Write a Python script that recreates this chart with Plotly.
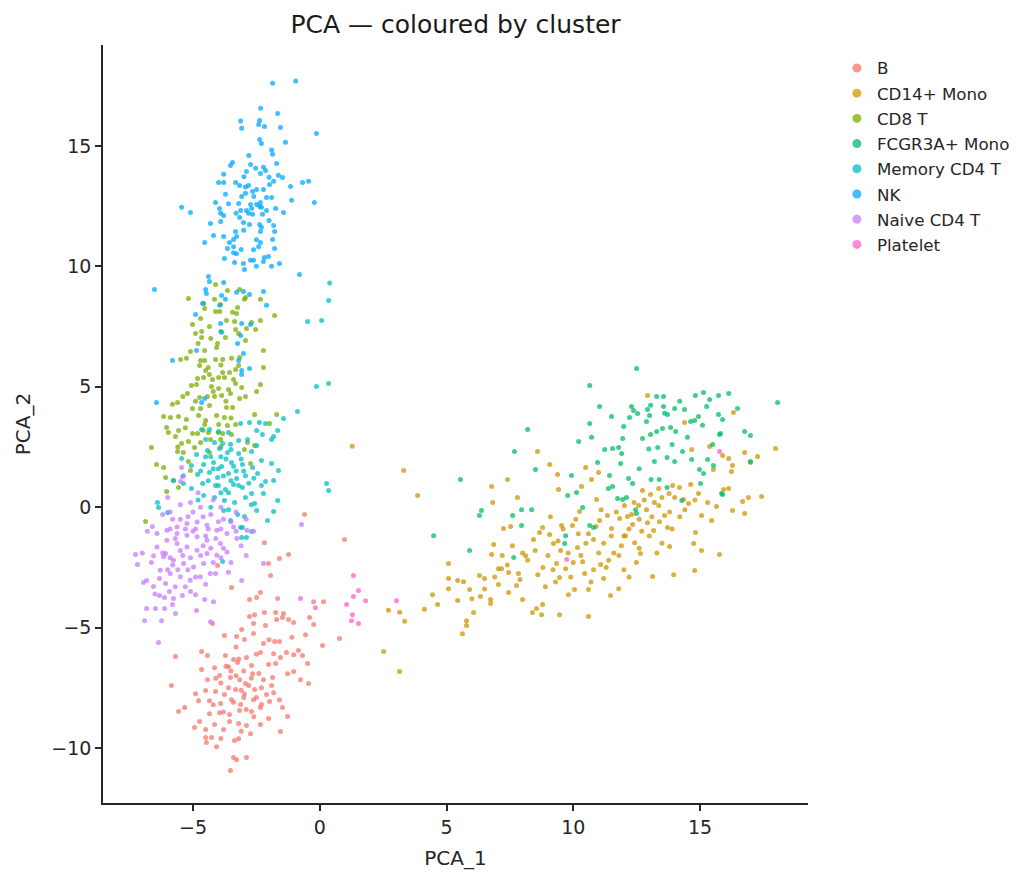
import plotly.graph_objs as go

# cluster labels in legend order
clusters = ["B", "CD14+ Mono", "CD8 T", "FCGR3A+ Mono", "Memory CD4 T", "NK", "Naive CD4 T", "Platelet"]
colours = ["#F8766D", "#CD9600", "#7CAE00", "#00BE67", "#00BFC4", "#00A9FF", "#C77CFF", "#FF61CC"]

# (PCA_1, PCA_2) per cluster
b_pts = [(-2.18, -1.47), (0.98, -1.34), (-1.59, -2.13), (-1.23, -1.96), (-2.02, -2.34), (-1.94, -2.84),
         (-4.03, -2.42), (-3.48, -3.33), (-2.77, -3.83), (-2.49, -3.75), (-2.34, -3.54), (-1.66, -3.79),
         (-0.24, -3.92), (0.15, -3.92), (-2.77, -4.54), (-2.57, -4.46), (-2.18, -4.37), (-1.74, -4.37),
         (-1.43, -4.41), (-1.70, -4.66), (-1.47, -4.58), (-1.23, -4.66), (-1.03, -4.79), (-0.40, -4.58),
         (-0.24, -4.87), (-0.56, -5.29), (0.11, -5.74), (0.78, -5.45), (-4.23, -4.83), (-2.61, -4.83),
         (-2.14, -4.91), (-0.60, -0.30),
         (-3.08, -5.08), (-3.76, -5.33), (-3.28, -5.37), (-2.97, -5.49), (-2.61, -5.24), (-2.22, -5.66),
         (-1.78, -5.58), (-1.59, -5.58), (-4.66, -5.99), (-4.43, -6.16), (-3.72, -6.16), (-3.40, -6.32),
         (-2.89, -6.24), (-2.34, -6.03), (-1.82, -6.08), (-1.55, -6.24), (-1.31, -6.03), (-1.03, -6.12),
         (-0.68, -6.16), (-0.84, -5.95), (-0.48, -6.49), (-5.69, -6.20), (-4.66, -6.74), (-4.15, -6.66),
         (-3.60, -6.62), (-3.24, -6.45), (-2.69, -6.57), (-2.02, -6.53), (-1.74, -6.49), (-1.27, -6.91),
         (-1.03, -6.82), (-4.43, -7.16), (-3.95, -6.99), (-3.52, -7.07), (-3.16, -7.16), (-2.93, -7.32),
         (-2.65, -6.91), (-2.22, -7.16), (-1.86, -7.07), (-0.76, -7.16), (-0.44, -7.32), (-5.85, -7.40),
         (-4.90, -7.74), (-4.50, -7.61), (-4.11, -7.65), (-3.76, -7.78), (-3.32, -7.57), (-2.97, -7.74),
         (-2.57, -7.57), (-2.10, -7.78), (-1.82, -7.70), (-4.78, -8.03), (-4.35, -8.03), (-3.91, -8.15),
         (-3.48, -7.99), (-3.12, -8.19), (-2.61, -7.99), (-2.30, -8.19), (-1.98, -8.07), (-1.59, -7.99),
         (-5.57, -8.48), (-5.33, -8.32), (-4.35, -8.57), (-3.95, -8.53), (-3.56, -8.61), (-3.16, -8.44),
         (-2.69, -8.48), (-2.34, -8.32), (-1.47, -8.32), (-1.27, -8.69), (-4.94, -9.15), (-4.74, -8.90),
         (-4.50, -9.23), (-4.15, -9.02), (-3.79, -9.23), (-3.56, -8.90), (-3.20, -8.98), (-2.89, -9.06),
         (-2.34, -9.02), (-2.02, -8.77), (-1.55, -9.31), (-4.50, -9.56), (-4.27, -9.56), (-3.36, -9.69),
         (-3.20, -9.61), (-4.47, -9.77), (-4.07, -9.94), (-2.73, -9.40), (-3.40, -10.39), (-3.28, -10.48),
         (-2.89, -10.39), (-3.52, -10.93),
         (-3.30, -7.00), (-2.80, -7.40), (-3.60, -7.50), (-3.00, -6.80), (-2.50, -7.90), (-3.90, -7.30),
         (-3.40, -8.10), (-2.90, -8.40), (-3.20, -6.30), (-2.40, -6.90), (-3.70, -6.60), (-3.00, -7.90),
         (-3.10, -7.60), (-2.70, -7.10), (-3.50, -6.80), (-3.80, -8.50), (-2.60, -8.70), (-3.10, -9.30),
         (-2.30, -7.50), (-4.10, -7.10), (-3.30, -5.80), (-2.50, -6.10), (-4.20, -8.20), (-1.90, -7.40),
         (-2.00, -5.50), (-1.10, -5.40), (-3.90, -9.60)]

cd14_pts = [(1.28, 2.53), (3.31, 1.52), (3.86, 0.49), (2.52, -5.99), (3.15, -6.82), (2.71, -4.28),
            (3.15, -4.36), (3.35, -4.73), (4.13, -4.24), (4.45, -3.63), (4.65, -4.04), (5.08, -2.34),
            (5.08, -2.96), (5.08, -3.38), (5.44, -3.04), (5.44, -3.87), (5.67, -3.09), (5.63, -5.25),
            (5.79, -4.91), (5.79, -4.71), (6.07, -4.37), (5.91, -3.42), (6.30, -2.84), (6.50, -2.96),
            (6.34, -3.71), (6.74, -3.83), (6.74, -4.00), (7.05, -2.55), (7.05, -3.21), (6.78, 0.86),
            (6.82, 0.20), (7.41, 1.15), (7.80, 0.40), (8.59, 2.31), (9.07, 1.77), (9.38, 1.36),
            (9.42, 0.74), (6.86, -1.55), (6.78, -1.96), (7.25, -0.88), (7.53, -0.80), (7.17, -2.55),
            (7.45, -2.71), (7.84, -2.75), (7.76, -3.25), (8.00, -3.83), (7.45, -3.54), (8.12, -2.01),
            (8.43, -1.34), (8.67, -1.05), (8.55, -4.21), (8.75, -4.46), (8.39, -4.37), (8.79, -4.04),
            (8.79, -0.84), (9.07, -1.13), (9.22, -1.51), (9.54, -0.76), (9.34, -2.34), (9.70, -2.55),
            (9.46, -2.92), (9.46, -4.46), (9.81, -3.63), (10.05, -3.42), (9.97, -0.76), (10.25, -0.18),
            (10.49, 1.65), (10.72, 1.15), (10.33, 0.86), (11.00, 1.44), (10.92, 0.32), (10.17, -1.67),
            (10.37, -2.26), (10.45, -2.75), (10.60, -3.42), (10.60, -4.54), (10.80, -1.34), (11.08, -2.38),
            (11.20, -2.96), (11.47, -3.67), (11.79, -3.38), (11.04, -0.55), (11.35, -0.34), (11.51, -0.88),
            (11.83, -0.47), (12.02, 0.07), (12.14, -0.39), (12.34, -0.72), (12.06, -1.18), (12.42, -1.47),
            (12.65, -1.92), (12.49, -2.30), (12.58, 0.07), (12.89, -0.10), (12.93, -0.64), (13.17, -0.97),
            (13.13, -2.88), (13.37, 0.07), (13.60, -0.34), (13.72, -0.84), (13.80, -1.63), (13.96, -2.80),
            (12.73, 0.69), (13.05, 0.53), (13.37, 0.78), (13.78, 0.57), (13.92, 0.90), (14.19, 0.82),
            (14.35, 0.32), (14.55, 0.15), (14.82, -1.05), (14.75, -1.51), (14.79, -2.63), (15.06, -1.80),
            (15.77, -1.96), (14.63, 0.94), (14.94, 0.57), (15.06, -0.34), (15.46, -0.55), (15.65, 0.03),
            (15.93, 0.74), (16.13, 0.78), (16.28, -0.14), (16.68, 0.24), (16.76, -0.26), (16.91, 0.40),
            (17.43, 0.44), (15.38, 2.52), (15.53, 1.57), (15.89, 2.15), (16.13, 2.02), (16.28, 1.73),
            (16.24, 1.48), (16.32, 3.93), (16.76, 2.27), (16.99, 1.86), (17.27, 2.11), (17.98, 2.44),
            (14.67, 2.40), (12.93, 4.64), (14.39, 3.52),
            (9.50, -1.80), (10.00, -2.30), (10.50, -1.50), (11.00, -1.90), (11.50, -1.20), (11.80, -2.00),
            (12.20, -0.90), (12.60, -0.50), (13.00, -1.20), (13.40, -0.60), (13.80, -0.20), (14.20, -0.40),
            (12.80, 0.30), (13.20, 0.20), (10.80, -2.60), (11.30, -2.50), (9.20, -2.60), (8.60, -2.80),
            (8.20, -2.20), (7.90, -3.00), (8.90, -3.30), (9.90, -2.90), (10.90, -0.80), (12.40, 0.20),
            (11.90, -1.60), (14.00, 0.40), (13.50, -1.50), (12.00, -2.60), (8.50, -1.80), (7.60, -1.60),
            (7.20, -2.00), (6.50, -3.40), (6.00, -3.80), (9.60, -0.90), (10.20, -1.10),
            (9.00, -2.00), (9.40, -1.40), (9.80, -1.90), (10.30, -2.00), (10.60, -1.10), (11.20, -1.50),
            (11.60, -1.90), (12.00, -1.20), (12.30, -0.30), (12.70, -1.00), (13.10, -0.40), (13.50, 0.40),
            (13.90, -0.90), (14.40, -0.10), (14.80, 0.30), (11.40, -2.20), (10.70, -3.10), (9.30, -3.10),
            (8.80, -2.50), (8.00, -1.90), (7.40, -2.40), (6.90, -2.90), (11.70, -0.20), (12.60, -1.70),
            (13.30, -1.90), (15.30, 0.20), (10.10, -0.50), (11.10, -0.10), (9.10, -0.40), (12.20, -2.90)]

cd8_pts = [(-4.11, 9.25), (-3.64, 9.00), (-3.16, 9.04), (-2.93, 8.71), (-2.97, 8.63), (-2.34, 8.63),
           (-5.18, 8.67), (-4.58, 8.46), (-4.15, 8.63), (-3.91, 8.42), (-4.54, 8.25), (-4.11, 8.13),
           (-3.95, 8.13), (-3.44, 8.09), (-3.28, 8.04), (-3.24, 8.29), (-1.78, 7.96), (-4.70, 7.84),
           (-3.68, 7.75), (-3.36, 7.71), (-2.69, 7.67), (-2.34, 7.75), (-5.02, 7.59), (-4.35, 7.50),
           (-2.53, 7.38), (-2.89, 7.42), (-3.32, 7.38), (-4.90, 7.21), (-4.66, 7.30), (-4.66, 7.05),
           (-3.72, 7.05), (-2.93, 6.92), (-3.20, 7.21), (-4.03, 6.80), (-4.07, 6.63), (-4.54, 6.51),
           (-5.10, 6.47), (-2.22, 6.51), (-5.49, 6.13), (-5.26, 6.18), (-4.70, 6.09), (-4.54, 6.09),
           (-4.11, 6.13), (-3.83, 6.13), (-3.48, 6.18), (-3.16, 6.22), (-4.74, 5.88), (-4.50, 5.68),
           (-4.35, 5.51), (-3.83, 5.59), (-3.56, 5.59), (-3.32, 5.72), (-3.20, 5.88), (-2.22, 5.80),
           (-4.82, 5.34), (-4.58, 5.39), (-4.23, 5.30), (-3.99, 5.39), (-3.76, 5.39), (-5.06, 5.05),
           (-4.86, 5.10), (-4.27, 5.01), (-3.99, 4.93), (-3.60, 4.89), (-3.32, 5.14), (-3.08, 4.97),
           (-2.34, 5.10), (-5.22, 4.72), (-4.74, 4.56), (-4.43, 4.60), (-4.15, 4.60), (-3.87, 4.64),
           (-3.52, 4.72), (-3.16, 4.51), (-2.93, 4.60), (-2.49, 4.80), (-5.81, 4.27), (-5.61, 4.35),
           (-5.02, 4.10), (-4.70, 4.10), (-4.35, 4.22), (-3.68, 4.14), (-3.44, 4.14), (-6.16, 3.77),
           (-5.89, 3.73), (-5.57, 3.77), (-5.26, 3.64), (-4.78, 3.81), (-4.07, 3.81), (-3.76, 3.73),
           (-2.57, 3.85), (-1.70, 3.85), (-6.04, 3.31), (-5.57, 3.19), (-4.54, 3.43), (-3.99, 3.43),
           (-3.64, 3.39), (-3.32, 3.43), (-1.98, 3.48), (-5.97, 3.10), (-5.02, 3.06), (-4.82, 3.06),
           (-4.39, 3.10), (-3.83, 3.06), (-3.48, 3.02), (-5.69, 2.94), (-5.18, 2.73), (-4.70, 2.69),
           (-4.31, 2.81), (-3.91, 2.81), (-6.64, 2.48), (-5.45, 2.65), (-4.94, 2.48), (-2.85, 2.69),
           (-2.57, 2.56), (-5.61, 2.31), (-5.38, 2.27), (-4.35, 2.27), (-2.97, 2.40), (-6.44, 1.77),
           (-6.16, 1.65), (-5.18, 1.90), (-5.10, 1.52), (-2.73, 1.81), (-6.08, 1.23), (-5.77, 1.11),
           (-5.57, 0.82), (-6.04, 0.65), (-6.87, -0.59),
           (-4.40, 5.80), (-3.90, 5.90), (-4.20, 4.80), (-3.70, 4.40), (-4.90, 4.40), (-4.50, 3.60),
           (-3.50, 3.70), (-5.30, 3.30), (-4.60, 3.20), (-4.00, 3.10), (-3.40, 5.30), (-4.80, 6.80),
           (-3.90, 7.30), (-4.30, 7.00), (-5.40, 4.60), (-5.60, 2.50), (-3.90, 2.50)]

fcgr_pts = [(12.50, 5.76), (10.65, 5.05), (8.20, 3.23), (7.68, 2.31), (5.55, 1.15), (4.49, -1.18),
            (5.91, -1.80), (6.30, -0.34), (6.38, -0.14), (7.61, -0.34), (7.96, -0.10), (8.36, -0.10),
            (7.96, -0.76), (7.65, -2.09), (8.51, 1.57), (10.21, 2.73), (10.65, 3.48), (10.72, 2.90),
            (11.04, 4.18), (11.51, 3.77), (9.93, 1.32), (10.13, 0.61), (9.78, 0.49), (10.37, -0.01),
            (10.65, -0.76), (10.80, -0.84), (9.70, -1.18), (9.66, -1.51), (10.96, 1.86), (11.43, 1.32),
            (11.55, 0.86), (11.39, 0.78), (11.24, 2.40), (11.55, 2.44), (11.79, 2.48), (11.91, 2.23),
            (11.95, 2.85), (11.99, 3.35), (11.87, 1.81), (12.18, 1.19), (12.34, 0.98), (11.75, 0.36),
            (11.95, 0.32), (12.10, 0.40), (12.46, -0.10), (12.49, -0.26), (12.30, 4.18), (12.38, 4.02),
            (12.54, 3.89), (12.93, 4.06), (13.05, 4.23), (13.29, 4.60), (13.56, 4.60), (13.56, 4.18),
            (13.01, 3.81), (12.89, 3.56), (12.22, 3.73), (12.73, 2.85), (13.05, 3.02), (13.29, 3.14),
            (13.52, 3.27), (13.84, 3.31), (14.04, 3.14), (13.72, 3.85), (14.00, 4.10), (14.39, 4.06),
            (14.63, 3.56), (14.79, 3.60), (14.94, 3.77), (15.14, 4.76), (14.82, 4.64), (15.38, 4.47),
            (15.73, 4.64), (16.13, 4.72), (15.26, 4.18), (15.73, 3.85), (15.89, 3.64), (16.48, 4.10),
            (15.77, 3.02), (15.81, 3.06), (16.76, 3.14), (16.99, 2.98), (18.06, 4.35), (12.98, 2.42),
            (13.33, 2.48), (13.70, 2.06), (14.00, 1.90), (14.31, 2.31), (14.67, 1.98), (14.98, 1.57),
            (15.30, 1.98), (15.53, 1.73), (15.89, 0.53), (16.99, 1.90), (13.07, 1.15), (13.39, 1.15),
            (13.70, 0.82), (14.28, 0.28), (15.02, 0.98), (15.14, 1.40), (15.85, 0.57),
            (13.90, 2.60), (14.50, 2.90), (13.60, 3.90), (15.10, 3.40), (12.60, 1.60), (14.20, 4.40),
            (15.50, 2.60), (13.20, 1.90)]

mem_pts = [(0.39, 9.31), (0.35, 8.58), (-0.48, 7.71), (0.07, 7.75), (-0.13, 5.01), (0.35, 5.14),
           (-0.88, 3.97), (-1.43, 3.68), (-1.66, 3.19), (-1.82, 2.94), (-1.90, 2.81), (0.27, 0.98),
           (0.35, 0.69),
           (-4.66, 3.23), (-4.35, 3.23), (-3.99, 3.14), (-3.60, 3.10), (-3.12, 3.48), (-2.77, 3.52),
           (-2.38, 3.52), (-2.14, 3.48), (-2.26, 3.02), (-2.49, 3.19), (-4.50, 2.81), (-4.15, 2.69),
           (-3.83, 2.65), (-3.52, 2.61), (-3.20, 2.77), (-2.85, 2.81), (-2.49, 2.56), (-5.45, 2.02),
           (-4.86, 2.19), (-4.43, 2.35), (-3.95, 2.44), (-3.64, 2.27), (-3.20, 2.23), (-2.69, 2.31),
           (-2.30, 1.94), (-1.90, 1.81), (-1.63, 1.52), (-5.06, 1.73), (-4.58, 1.77), (-4.19, 1.86),
           (-3.87, 1.69), (-3.48, 1.86), (-3.05, 1.77), (-2.65, 1.65), (-5.38, 1.31), (-4.82, 1.36),
           (-4.35, 1.44), (-4.03, 1.23), (-3.60, 1.40), (-3.28, 1.19), (-2.93, 1.31), (-2.45, 1.40),
           (-2.14, 1.07), (-1.82, 1.11), (-5.77, 1.11), (-5.38, 0.98), (-5.06, 0.78), (-4.62, 0.98),
           (-4.11, 0.90), (-3.72, 0.74), (-3.40, 0.94), (-3.05, 0.82), (-2.69, 0.57), (-2.22, 0.57),
           (-4.58, 0.49), (-4.15, 0.40), (-3.76, 0.28), (-3.36, 0.20), (-2.93, 0.40), (-2.57, 0.15),
           (-1.66, 0.28), (-6.40, 0.20), (-6.36, -0.01), (-6.00, -0.22), (-3.79, -0.14), (-3.24, -0.30),
           (-2.97, -0.39), (-2.49, -0.14), (-2.06, -0.55), (-1.82, -0.18), (-3.52, -0.55), (-3.12, -0.84),
           (-2.89, -1.26), (-2.69, -1.01), (-3.05, -0.84), (-3.08, -1.26), (-3.83, -2.25),
           (-4.00, 1.60), (-3.70, 2.00), (-3.30, 1.50), (-4.30, 2.10), (-3.90, 0.60), (-3.50, 1.10),
           (-4.40, 1.10), (-4.00, 0.90), (-3.60, 0.60), (-3.20, 0.90), (-2.80, 1.00), (-4.70, 1.50),
           (-4.20, 1.60), (-3.80, 1.30), (-3.40, 1.70), (-3.00, 1.50), (-2.60, 1.20), (-4.50, 2.10),
           (-3.90, 2.10), (-3.50, 2.40), (-3.10, 2.00), (-4.80, 0.30), (-4.30, 0.00), (-3.60, -0.10),
           (-2.70, 0.10), (-2.30, 0.90)]

nk_pts = [(-1.86, 17.60), (-0.95, 17.70), (-2.33, 16.56), (-1.66, 16.35), (-3.12, 16.03), (-2.37, 16.06),
          (-3.08, 15.73), (-2.41, 15.89), (-2.18, 15.81), (-1.55, 15.77), (-0.13, 15.52), (-2.37, 15.27),
          (-2.30, 15.10), (-1.35, 15.15), (-1.90, 14.83), (-1.86, 14.65), (-3.44, 14.31), (-3.52, 14.19),
          (-2.73, 14.23), (-2.53, 14.07), (-2.22, 14.11), (-2.14, 13.98), (-1.70, 14.27), (-2.89, 13.94),
          (-2.34, 13.86), (-3.79, 13.82), (-2.99, 13.72), (-1.63, 13.78), (-1.47, 13.69), (-3.99, 13.48),
          (-3.79, 13.48), (-3.32, 13.48), (-3.16, 13.36), (-2.93, 13.29), (-2.81, 13.36), (-1.98, 13.40),
          (-1.82, 13.53), (-0.68, 13.48), (-0.44, 13.53), (-1.15, 13.32), (-2.65, 13.11), (-2.49, 13.19),
          (-2.22, 13.19), (-3.72, 12.99), (-3.08, 12.90), (-2.93, 13.03), (-2.10, 12.86), (-1.90, 12.86),
          (-4.11, 12.65), (-5.45, 12.45), (-5.10, 12.24), (-3.20, 12.61), (-2.73, 12.57), (-2.49, 12.57),
          (-2.34, 12.65), (-2.37, 12.49), (-2.30, 12.45), (-1.11, 12.74), (-0.21, 12.65), (-3.95, 12.40),
          (-3.91, 12.20), (-3.79, 12.11), (-3.12, 12.32), (-2.89, 12.32), (-2.69, 12.40), (-2.65, 12.16),
          (-2.81, 12.20), (-2.26, 12.16), (-2.10, 12.32), (-1.74, 12.40), (-1.43, 12.24), (-4.31, 11.78),
          (-3.91, 11.86), (-3.16, 12.03), (-3.01, 11.82), (-2.77, 11.74), (-2.37, 11.74), (-2.30, 11.62),
          (-1.82, 11.70), (-1.78, 11.45), (-2.34, 11.45), (-4.19, 11.28), (-3.79, 11.24), (-3.32, 11.45),
          (-3.28, 11.24), (-3.40, 11.12), (-3.56, 10.99), (-4.54, 10.99), (-3.40, 10.81), (-3.64, 10.74),
          (-3.28, 10.52), (-3.40, 10.56), (-2.61, 10.69), (-2.41, 10.81), (-2.34, 10.99), (-1.86, 11.12),
          (-1.78, 10.74), (-3.76, 10.33), (-3.36, 10.16), (-3.01, 10.12), (-2.97, 9.87), (-2.73, 10.25),
          (-2.61, 10.25), (-2.22, 10.20), (-2.18, 10.37), (-2.02, 10.41), (-1.90, 10.00), (-1.59, 10.12),
          (-0.80, 9.66), (-6.52, 9.04), (-4.39, 9.58), (-4.35, 9.37), (-3.79, 9.33), (-4.50, 9.04),
          (-4.47, 8.87), (-2.22, 8.96), (-3.28, 8.92), (-3.01, 8.96), (-2.77, 8.83), (-3.87, 8.79),
          (-3.72, 8.63), (-4.62, 8.46), (-3.95, 8.38), (-2.10, 8.38), (-4.90, 8.00), (-3.91, 7.63),
          (-3.08, 7.63), (-2.73, 7.59), (-3.87, 7.26), (-3.12, 7.13), (-3.24, 6.80), (-4.86, 6.51),
          (-3.01, 6.38), (-5.81, 6.09), (-3.20, 6.09), (-3.08, 5.68), (-2.77, 5.76), (-3.08, 5.51),
          (-6.44, 4.35), (-4.54, 4.51), (-4.66, 4.35),
          (-2.60, 12.90), (-3.30, 12.20), (-2.50, 11.10), (-3.00, 11.50), (-2.00, 11.90), (-3.60, 12.60),
          (-2.80, 14.60), (-2.50, 10.00), (-3.10, 10.70), (-2.00, 13.70)]

naive_pts = [(-5.45, 1.65), (-5.41, 1.27), (-5.49, 1.07), (-0.72, -0.72), (-7.27, -1.96), (-7.19, -2.38),
             (-6.56, -2.01), (-6.08, -1.92), (-6.64, -2.30), (-6.95, -3.13), (-6.83, -3.04), (-6.56, -3.29),
             (-6.32, -2.96), (-6.08, -3.17), (-6.83, -4.21), (-6.48, -4.21), (-6.12, -4.21), (-5.81, -4.04),
             (-6.91, -4.71), (-6.24, -4.71), (-5.69, -4.41), (-4.86, -4.29), (-4.54, -3.83), (-4.19, -3.92),
             (-4.31, -4.75), (-6.36, -5.62), (-3.08, -3.04), (-4.11, -2.75), (-2.22, -2.34), (-6.32, -3.67),
             (-6.12, -3.75), (-5.77, -3.79), (-5.42, -3.67), (-5.10, -3.50), (-4.90, -3.63), (-5.93, -3.50),
             (-6.42, -1.09), (-6.03, -0.96), (-5.63, -0.82), (-5.24, -0.68), (-4.84, -0.61), (-4.45, -0.75),
             (-4.06, -0.96), (-3.66, -1.09), (-3.40, -0.82), (-2.87, -0.96), (-3.27, -1.30), (-3.66, -1.86),
             (-4.06, -1.99), (-4.45, -1.92), (-4.84, -1.79), (-5.24, -1.65), (-5.63, -1.51), (-6.03, -1.37),
             (-6.42, -1.65), (-6.16, -2.06), (-5.77, -2.20), (-5.37, -2.34), (-4.98, -2.48), (-4.58, -2.34),
             (-4.32, -2.75), (-4.71, -2.89), (-5.11, -3.03), (-5.50, -2.89), (-5.90, -2.75), (-6.29, -2.62),
             (-3.92, -1.51), (-4.45, -1.37), (-4.84, -1.23), (-5.24, -1.16), (-5.63, -1.09),
             (-5.50, 0.10), (-5.00, -0.20), (-4.60, -0.40), (-4.20, 0.30), (-3.80, -0.50), (-3.30, -0.20),
             (-4.80, 0.60), (-5.20, -0.40), (-6.00, 0.40), (-4.40, -0.90), (-3.90, -0.90), (-5.80, -0.50),
             (-6.60, -0.80), (-2.90, -0.50), (-2.60, -1.00), (-3.10, -1.60), (-3.50, -2.30), (-2.90, -2.00),
             (-6.80, -1.00), (-7.00, -1.90), (-5.00, -1.00), (-4.60, -1.60), (-5.40, -2.00), (-4.20, -2.30),
             (-5.80, -2.40), (-4.90, -2.90), (-5.30, -3.30), (-3.60, -2.70),
             (-6.20, -0.30), (-5.90, -0.20), (-5.50, -0.50), (-5.10, 0.20), (-4.70, 0.00), (-4.30, -0.30),
             (-3.90, 0.00), (-3.50, -0.60), (-5.70, -1.30), (-5.30, -0.90), (-4.90, -0.90), (-4.50, -1.20),
             (-4.10, -1.30), (-3.80, -1.70), (-6.20, -1.90), (-5.90, -2.10), (-5.50, -1.80), (-5.10, -2.10),
             (-4.70, -2.00), (-4.30, -1.70), (-3.90, -2.10), (-6.00, -2.60), (-5.60, -2.60), (-5.20, -2.60),
             (-4.50, -3.20), (-5.70, -3.30), (-6.50, -3.60), (-3.30, -1.00), (-4.00, -0.60), (-5.90, -0.90)]

platelet_pts = [(-0.76, -3.79), (-0.17, -4.17), (1.33, -2.84), (1.53, -3.46), (1.33, -3.71), (1.81, -3.88),
                (1.06, -4.04), (1.29, -4.46), (1.25, -4.71), (1.53, -4.83), (3.03, -3.88), (9.74, -2.17),
                (15.77, 2.31)]

points = [b_pts, cd14_pts, cd8_pts, fcgr_pts, mem_pts, nk_pts, naive_pts, platelet_pts]

fig = go.Figure()

for name, colour, pts in zip(clusters, colours, points):
    xs = [p[0] for p in pts]
    ys = [p[1] for p in pts]
    fig.add_trace(go.Scatter(x=xs, y=ys, mode='markers', name=name, legendgroup=name, showlegend=False,
                             marker=dict(size=5, color=colour, opacity=0.75, line=dict(width=0)),
                             hoverinfo='skip'))
    # legend-only entry so the legend dot is bigger than the plotted dots
    fig.add_trace(go.Scatter(x=[None], y=[None], mode='markers', name=name, legendgroup=name,
                             marker=dict(size=9, color=colour, opacity=0.75, line=dict(width=0))))

axis_style = dict(showline=True, linecolor='#262626', linewidth=1.5, ticks='outside', ticklen=6,
                  tickwidth=1.5, tickcolor='#262626', showgrid=False, zeroline=False,
                  tickfont=dict(size=19, color='#262626'), title_font=dict(size=20, color='#262626'))

# the page body adds an 8px offset, so margins are 8px smaller than the reference positions
fig.update_layout(
    width=1034, height=884,
    margin=dict(l=95, r=234, t=37, b=89),
    paper_bgcolor='white', plot_bgcolor='white',
    font=dict(family='DejaVu Sans', color='#262626'),
    title=dict(text='PCA — coloured by cluster', x=0.5, xanchor='center', xref='paper',
               y=1 - 16 / 884, yref='container', yanchor='middle', font=dict(size=25, color='#1a1a1a')),
    xaxis=dict(range=[-8.55, 19.26], tickvals=[-5, 0, 5, 10, 15], title=dict(text='PCA_1', standoff=14),
               **axis_style),
    yaxis=dict(range=[-12.28, 19.19], tickvals=[-10, -5, 0, 5, 10, 15], title=dict(text='PCA_2', standoff=15),
               **axis_style),
    legend=dict(x=1.041, xanchor='left', y=0.9926, yanchor='top', bgcolor='rgba(0,0,0,0)',
                font=dict(size=16.7, color='#262626'), tracegroupgap=0.5, traceorder='grouped'),
)

fig.write_html("out.html")
